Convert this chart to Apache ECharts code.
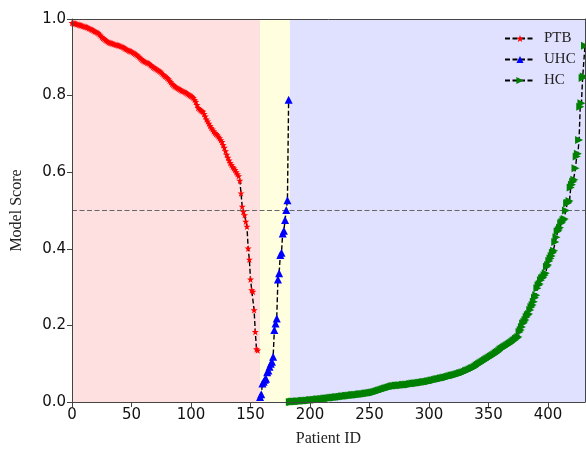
<!DOCTYPE html>
<html>
<head>
<meta charset="utf-8">
<script src="https://cdn.jsdelivr.net/npm/echarts@6/dist/echarts.min.js"></script>
<style>
html,body{margin:0;padding:0;background:#fff;}
#c{width:586px;height:452px;}
</style>
</head>
<body>
<div id="c"></div>
<script>
// ---- data ----
const ptbStart = 0;
const ptbScores = [
0.990,0.989,0.988,0.988,0.987,0.986,0.985,0.984,0.983,0.982,0.981,0.980,0.979,0.978,0.976,
0.975,0.973,0.972,0.970,0.968,0.967,0.965,0.963,0.960,0.957,0.953,0.950,0.948,0.945,0.943,
0.941,0.939,0.938,0.937,0.936,0.935,0.934,0.933,0.932,0.931,0.930,0.929,0.928,0.926,0.924,
0.922,0.921,0.919,0.917,0.916,0.915,0.913,0.911,0.909,0.907,0.905,0.902,0.899,0.896,0.893,
0.891,0.889,0.888,0.886,0.885,0.883,0.880,0.878,0.875,0.873,0.871,0.869,0.867,0.865,0.863,
0.860,0.857,0.854,0.851,0.849,0.846,0.843,0.839,0.835,0.831,0.828,0.825,0.823,0.821,0.819,
0.817,0.815,0.813,0.812,0.811,0.809,0.807,0.805,0.803,0.801,0.799,0.797,0.794,0.789,0.784,
0.776,0.768,0.765,0.762,0.760,0.758,0.752,0.746,0.738,0.733,0.727,0.721,0.716,0.712,0.707,
0.703,0.700,0.697,0.693,0.689,0.684,0.679,0.671,0.664,0.655,0.646,0.638,0.631,0.624,0.619,
0.614,0.610,0.606,0.600,0.595,0.590,0.578,
0.545,0.510,0.497,0.488,0.471,0.458,0.401,0.372,0.320,0.292,0.288,0.240,0.183,0.138,0.135
];
const uhcStart = 158;
const uhcScores = [
0.013,0.020,0.048,0.053,0.058,0.061,0.078,0.082,0.092,0.100,0.105,0.118,0.188,0.205,0.218,
0.320,0.336,0.384,0.390,0.440,0.447,0.475,0.501,0.527,0.789
];
const hcStart = 183;
const hcScores = [
0.000,0.000,0.001,0.001,0.001,0.001,0.002,0.002,0.002,0.002,0.003,0.003,0.003,0.003,0.004,0.004,0.004,
0.005,0.005,0.005,0.006,0.006,0.006,0.007,0.007,0.007,0.008,0.008,0.008,0.009,0.009,0.010,0.010,0.010,
0.011,0.011,0.012,0.012,0.012,0.013,0.013,0.013,0.014,0.014,0.015,0.015,0.015,0.016,
0.016,0.016,0.017,0.017,0.018,0.018,0.018,0.019,0.019,0.019,0.020,0.020,0.021,0.021,0.021,0.022,0.022,0.023,0.023,0.024,
0.024,0.025,0.025,0.026,0.027,0.028,0.029,0.030,0.031,0.032,0.033,0.034,0.035,0.036,0.037,0.038,0.039,0.040,0.041,0.042,0.042,0.043,
0.043,0.043,0.044,0.044,0.044,0.045,0.045,0.045,0.046,0.046,0.046,0.047,0.047,0.048,0.048,0.049,0.049,0.049,0.050,0.050,0.051,0.051,0.052,0.052,0.053,0.053,0.054,0.054,
0.055,0.056,0.057,0.057,0.058,0.059,0.060,0.060,0.061,0.062,0.062,0.063,0.064,0.064,0.065,0.066,0.067,0.068,0.069,0.070,0.070,0.071,0.072,0.073,0.074,0.075,0.076,0.077,
0.078,0.079,0.081,0.082,0.083,0.085,0.086,0.088,0.089,0.091,0.093,0.095,0.097,0.099,0.101,0.103,0.105,0.107,0.109,0.111,
0.113,0.115,0.117,0.119,0.121,0.123,0.125,0.127,0.129,0.131,0.134,0.137,0.139,0.141,0.143,0.145,0.147,0.149,0.151,0.153,0.155,0.157,0.160,0.162,0.165,
0.167,0.170,0.183,0.188,0.196,0.205,0.209,0.214,0.222,0.227,
0.230,0.240,0.248,0.253,0.262,0.272,0.279,0.297,0.305,0.308,
0.318,0.323,0.326,0.331,0.336,0.353,0.358,0.368,0.375,0.381,
0.390,0.395,0.418,0.430,0.445,0.449,0.455,0.467,0.470,0.475,
0.478,0.500,0.519,0.520,0.525,0.560,0.567,0.575,0.580,0.610,
0.641,0.648,0.684,0.771,0.780,0.846,0.850,0.930
];
const seriesNames = ['PTB', 'UHC', 'HC'];
const regionBounds = [[0, 158], [158, 183], [183, 431]];
const xTicks = [0, 50, 100, 150, 200, 250, 300, 350, 400];
const yTicks = [0, 0.2, 0.4, 0.6, 0.8, 1.0];
const threshold = 0.5;
const xMax = 431;

function pairs(start, arr) { return arr.map((v, i) => [start + i, v]); }

const regionColors = ['#ffe0e0', '#ffffe0', '#e0e0ff'];
const star = 'path://M0,-10L2.35,-3.24L9.51,-3.09L3.8,1.24L5.88,8.09L0,4L-5.88,8.09L-3.8,1.24L-9.51,-3.09L-2.35,-3.24Z';
const dash = [5, 2.5];

const chart = echarts.init(document.getElementById('c'), null, {renderer: 'canvas'});
const lineBase = {
  type: 'line',
  xAxisIndex: 0, yAxisIndex: 0,
  showAllSymbol: true,
  animation: false,
  z: 5,
  lineStyle: {color: '#000', width: 1.4, type: dash}
};
chart.setOption({
  animation: false,
  backgroundColor: '#fff',
  grid: {left: 72, right: 1, top: 19, bottom: 50, containLabel: false},
  legend: {
    data: seriesNames,
    orient: 'vertical',
    left: 499, top: 26,
    itemWidth: 30, itemHeight: 9, itemGap: 6,
    textStyle: {fontFamily: 'Liberation Serif', fontSize: 15, color: '#222', padding: [0, 0, 0, 4]},
    inactiveColor: '#ccc'
  },
  xAxis: [{
    type: 'value', min: 0, max: xMax, interval: 50, position: 'bottom', z: 10,
    name: 'Patient ID', nameLocation: 'middle', nameGap: 29,
    nameTextStyle: {fontFamily: 'Liberation Serif', fontSize: 16, color: '#222'},
    axisLine: {show: true, onZero: false, lineStyle: {color: '#444', width: 1}},
    axisTick: {show: true, length: 5, customValues: xTicks, lineStyle: {color: '#444'}},
    axisLabel: {customValues: xTicks, fontFamily: 'DejaVu Sans', fontSize: 15, color: '#111', margin: 6},
    splitLine: {show: false}
  }, {
    type: 'value', min: 0, max: xMax, position: 'top', z: 10,
    axisLine: {show: true, onZero: false, lineStyle: {color: '#444', width: 1}},
    axisTick: {show: false}, axisLabel: {show: false}, splitLine: {show: false}
  }],
  yAxis: [{
    type: 'value', min: 0, max: 1, interval: 0.2, position: 'left', z: 10,
    name: 'Model Score', nameLocation: 'middle', nameGap: 47,
    nameTextStyle: {fontFamily: 'Liberation Serif', fontSize: 16, color: '#222'},
    axisLine: {show: true, onZero: false, lineStyle: {color: '#444', width: 1}},
    axisTick: {show: true, length: 5, lineStyle: {color: '#444'}},
    axisLabel: {formatter: v => v.toFixed(1), fontFamily: 'DejaVu Sans', fontSize: 15, color: '#111', margin: 6},
    splitLine: {show: false}
  }, {
    type: 'value', min: 0, max: 1, position: 'right', z: 10,
    axisLine: {show: true, onZero: false, lineStyle: {color: '#444', width: 1}},
    axisTick: {show: false}, axisLabel: {show: false}, splitLine: {show: false}
  }],
  series: [
    {
      name: 'regions', type: 'line', data: [], z: 1, silent: true,
      markArea: {
        silent: true,
        data: regionBounds.map((b, i) => [{xAxis: b[0], itemStyle: {color: regionColors[i]}}, {xAxis: b[1]}])
      },
      markLine: {
        silent: true, symbol: 'none', label: {show: false},
        lineStyle: {color: '#666', width: 1.2, type: [5, 2.5]},
        data: [{yAxis: threshold}]
      }
    },
    Object.assign({}, lineBase, {
      name: seriesNames[0], data: pairs(ptbStart, ptbScores),
      symbol: star, symbolSize: 7,
      itemStyle: {color: '#ff0000'}
    }),
    Object.assign({}, lineBase, {
      name: seriesNames[1], data: pairs(uhcStart, uhcScores),
      symbol: 'triangle', symbolSize: 8,
      itemStyle: {color: '#0000ff'}
    }),
    Object.assign({}, lineBase, {
      name: seriesNames[2], data: pairs(hcStart, hcScores),
      symbol: 'triangle', symbolSize: 8, symbolRotate: -90,
      itemStyle: {color: '#008000'}
    })
  ]
});
</script>
</body>
</html>
